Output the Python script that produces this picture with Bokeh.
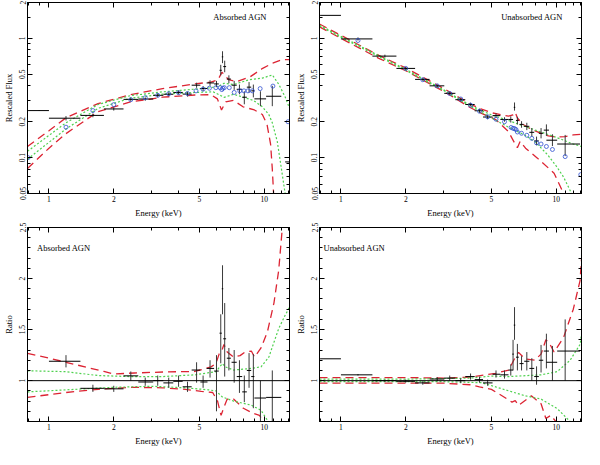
from bokeh.plotting import figure
from bokeh.models import (LogAxis, LinearAxis, FixedTicker, CustomJSTickFormatter,
                          Range1d, Label, Span)
from bokeh.layouts import column, row
from bokeh.embed import file_html
from bokeh.resources import INLINE

# ---------------- data: Absorbed AGN, rescaled flux ----------------
ab_f_lo = [0.8, 1.0, 1.4, 1.8, 2.22, 2.6, 3.05, 3.4, 3.78, 4.18, 4.6, 5.05, 5.4, 5.85, 6.2, 6.35, 6.45, 6.7, 7.05, 7.45, 7.9, 8.3, 8.7, 9.0, 10.2, 12.5]
ab_f_hi = [1.0, 1.4, 1.8, 2.22, 2.6, 3.05, 3.4, 3.78, 4.18, 4.6, 5.05, 5.45, 5.85, 6.15, 6.35, 6.45, 6.65, 7.0, 7.45, 7.9, 8.3, 8.7, 9.0, 10.2, 12.0, 14.0]
ab_f_e = [0.9, 1.2, 1.6, 2.0, 2.4, 2.8, 3.2, 3.6, 4.0, 4.4, 4.85, 5.2, 5.6, 6.0, 6.28, 6.4, 6.55, 6.85, 7.25, 7.67, 8.08, 8.5, 8.9, 9.6, 10.9, 13.0]
ab_f_y = [0.248, 0.214, 0.226, 0.256, 0.308, 0.31, 0.333, 0.34, 0.352, 0.341, 0.405, 0.38, 0.423, 0.415, 0.54, 0.70, 0.58, 0.456, 0.405, 0.374, 0.321, 0.39, 0.363, 0.311, 0.327, 0.092]
ab_f_ylo = [0.246, 0.205, 0.218, 0.248, 0.298, 0.300, 0.320, 0.327, 0.338, 0.325, 0.385, 0.362, 0.40, 0.39, 0.49, 0.62, 0.52, 0.42, 0.37, 0.34, 0.28, 0.35, 0.32, 0.27, 0.27, 0.092]
ab_f_yhi = [0.250, 0.223, 0.234, 0.264, 0.318, 0.32, 0.346, 0.353, 0.366, 0.357, 0.425, 0.398, 0.445, 0.44, 0.60, 0.78, 0.65, 0.49, 0.44, 0.41, 0.36, 0.43, 0.41, 0.36, 0.40, 0.092]
ab_f_mod_e = [0.8, 1.2, 1.6, 2.0, 2.4, 2.8, 3.2, 3.6, 4.0, 4.4, 4.82, 5.2, 5.56, 5.96, 6.24, 6.35, 6.42, 6.52, 6.88, 7.25, 7.7, 8.05, 8.4, 8.8, 9.57, 10.97, 12.9]
ab_f_mod_y = [0.1, 0.18, 0.248, 0.278, 0.306, 0.318, 0.333, 0.343, 0.35, 0.345, 0.363, 0.375, 0.382, 0.386, 0.386, 0.372, 0.382, 0.386, 0.386, 0.352, 0.363, 0.363, 0.363, 0.363, 0.379, 0.398, 0.2]
ab_f_red_up_e = [0.795, 1.0, 1.2, 1.69, 2.39, 3.37, 4.76, 5.65, 6.1, 6.36, 6.5, 6.83, 7.43, 8.6, 9.83, 11.1, 12.1, 13.1]
ab_f_red_up_y = [0.124, 0.168, 0.216, 0.284, 0.337, 0.379, 0.415, 0.43, 0.45, 0.52, 0.50, 0.45, 0.434, 0.476, 0.561, 0.627, 0.663, 0.663]
ab_f_red_lo_e = [0.795, 1.0, 1.2, 1.69, 2.39, 3.37, 4.76, 5.65, 6.06, 6.33, 6.62, 7.2, 7.97, 9.0, 9.8, 10.3, 10.7, 10.9, 11.05]
ab_f_red_lo_y = [0.081, 0.12, 0.159, 0.243, 0.293, 0.321, 0.335, 0.337, 0.311, 0.251, 0.293, 0.302, 0.267, 0.251, 0.23, 0.19, 0.13, 0.08, 0.05]
ab_f_grn_up_e = [0.795, 1.2, 1.69, 2.39, 3.37, 4.76, 5.65, 6.2, 6.5, 7.2, 8.5, 9.8, 10.9, 11.7, 12.5, 13.1]
ab_f_grn_up_y = [0.113, 0.196, 0.279, 0.331, 0.356, 0.375, 0.386, 0.40, 0.42, 0.41, 0.45, 0.464, 0.494, 0.41, 0.323, 0.26]
ab_f_grn_lo_e = [0.795, 1.2, 1.69, 2.39, 3.37, 4.76, 5.8, 6.3, 6.5, 7.2, 8.9, 9.8, 10.5, 10.9, 11.5, 12.1, 12.5]
ab_f_grn_lo_y = [0.097, 0.174, 0.259, 0.315, 0.341, 0.352, 0.356, 0.33, 0.32, 0.34, 0.302, 0.267, 0.23, 0.196, 0.136, 0.074, 0.05]

# ---------------- data: Unabsorbed AGN, rescaled flux ----------------
un_f_lo = [0.8, 1.0, 1.4, 1.81, 2.21, 2.58, 3.02, 3.4, 3.78, 4.18, 4.57, 5.06, 5.5, 6.0, 6.35, 6.5, 6.75, 7.1, 7.5, 7.9, 8.3, 8.75, 9.0, 10.1]
un_f_hi = [1.0, 1.4, 1.81, 2.21, 2.58, 3.02, 3.4, 3.78, 4.18, 4.57, 5.06, 5.5, 6.0, 6.3, 6.45, 6.7, 7.05, 7.5, 7.9, 8.3, 8.7, 9.25, 10.1, 12.9]
un_f_e = [0.9, 1.2, 1.6, 2.0, 2.4, 2.8, 3.2, 3.6, 4.0, 4.4, 4.8, 5.25, 5.75, 6.15, 6.4, 6.6, 6.9, 7.3, 7.7, 8.1, 8.5, 9.0, 9.6, 11.0]
un_f_y = [1.56, 0.99, 0.71, 0.56, 0.453, 0.40, 0.346, 0.306, 0.279, 0.247, 0.219, 0.225, 0.209, 0.209, 0.264, 0.205, 0.19, 0.183, 0.163, 0.138, 0.16, 0.17, 0.14, 0.13]
un_f_ylo = [1.56, 0.96, 0.69, 0.545, 0.44, 0.39, 0.336, 0.296, 0.269, 0.237, 0.21, 0.215, 0.20, 0.197, 0.248, 0.19, 0.178, 0.17, 0.15, 0.127, 0.145, 0.152, 0.125, 0.103]
un_f_yhi = [1.56, 1.02, 0.73, 0.575, 0.466, 0.41, 0.356, 0.316, 0.289, 0.257, 0.228, 0.235, 0.218, 0.222, 0.29, 0.22, 0.202, 0.196, 0.177, 0.15, 0.177, 0.19, 0.157, 0.155]
un_f_mod_e = [1.2, 2.0, 2.4, 2.8, 3.2, 3.6, 4.0, 4.4, 4.8, 5.25, 5.75, 6.17, 6.3, 6.4, 6.5, 6.6, 6.9, 7.3, 7.7, 8.1, 8.5, 9.0, 9.6, 11.0, 13.0]
un_f_mod_y = [0.96, 0.56, 0.45, 0.40, 0.345, 0.31, 0.275, 0.245, 0.22, 0.21, 0.20, 0.179, 0.176, 0.175, 0.172, 0.164, 0.16, 0.154, 0.145, 0.133, 0.13, 0.124, 0.117, 0.102, 0.072]
un_f_red_up_e = [0.795, 1.0, 1.5, 2.0, 3.0, 4.0, 4.5, 5.0, 5.6, 6.0, 6.3, 6.45, 6.6, 7.0, 7.7, 8.5, 9.2, 10.0, 11.0, 12.0, 13.1]
un_f_red_up_y = [1.32, 1.06, 0.72, 0.565, 0.38, 0.28, 0.255, 0.238, 0.228, 0.223, 0.228, 0.24, 0.215, 0.19, 0.172, 0.16, 0.152, 0.149, 0.15, 0.155, 0.157]
un_f_red_lo_e = [0.795, 1.0, 1.5, 2.0, 3.0, 4.0, 4.5, 5.24, 6.0, 6.4, 6.6, 6.8, 7.2, 8.18, 9.77, 10.6, 10.8]
un_f_red_lo_y = [1.25, 1.0, 0.68, 0.535, 0.36, 0.262, 0.235, 0.208, 0.165, 0.133, 0.121, 0.137, 0.12, 0.099, 0.074, 0.054, 0.05]
un_f_grn_up_e = [0.795, 1.0, 2.0, 3.0, 4.0, 5.0, 6.0, 6.7, 8.0, 9.4, 10.5, 12.0, 13.1]
un_f_grn_up_y = [1.29, 1.04, 0.55, 0.37, 0.274, 0.228, 0.205, 0.19, 0.17, 0.154, 0.143, 0.13, 0.124]
un_f_grn_lo_e = [0.795, 1.0, 2.0, 3.0, 4.0, 5.0, 6.0, 7.16, 8.0, 9.1, 10.0, 10.8, 11.6, 11.75]
un_f_grn_lo_y = [1.27, 1.02, 0.54, 0.365, 0.27, 0.215, 0.18, 0.154, 0.135, 0.106, 0.085, 0.069, 0.053, 0.05]

# ---------------- data: Absorbed AGN, ratio ----------------
ab_r_lo = [1.0, 1.4, 1.8, 2.22, 2.6, 3.05, 3.4, 3.78, 4.18, 4.6, 5.05, 5.4, 5.85, 6.2, 6.35, 6.45, 6.7, 7.05, 7.45, 7.9, 8.3, 8.7, 9.0, 10.2]
ab_r_hi = [1.4, 1.8, 2.22, 2.6, 3.05, 3.4, 3.78, 4.18, 4.6, 5.05, 5.45, 5.85, 6.15, 6.35, 6.45, 6.65, 7.0, 7.45, 7.9, 8.3, 8.7, 9.0, 10.2, 12.0]
ab_r_e = [1.2, 1.6, 2.0, 2.4, 2.8, 3.2, 3.6, 4.0, 4.4, 4.85, 5.2, 5.6, 6.0, 6.28, 6.4, 6.55, 6.85, 7.25, 7.67, 8.08, 8.5, 8.9, 9.6, 10.9]
ab_r_y = [1.19, 0.925, 0.92, 1.047, 0.987, 1.0, 0.978, 0.994, 0.94, 1.104, 0.987, 1.12, 1.094, 1.465, 1.9, 1.41, 1.22, 1.18, 1.04, 0.89, 1.10, 1.04, 0.83, 0.836]
ab_r_ylo = [1.13, 0.89, 0.89, 1.0, 0.95, 0.95, 0.93, 0.94, 0.89, 0.98, 0.93, 1.03, 0.70, 1.17, 1.65, 1.04, 1.10, 0.98, 0.88, 0.79, 0.93, 0.73, 0.6, 0.6]
ab_r_yhi = [1.25, 0.96, 0.95, 1.09, 1.03, 1.05, 1.03, 1.05, 0.99, 1.18, 1.05, 1.2, 1.25, 1.65, 2.13, 1.76, 1.32, 1.3, 1.2, 1.05, 1.27, 1.26, 1.0, 1.1]
ab_r_red_up_e = [0.795, 1.0, 1.2, 1.5, 1.8, 2.0, 2.5, 3.4, 4.76, 5.66, 5.96, 6.17, 6.39, 6.5, 6.73, 7.2, 7.72, 8.13, 8.71, 9.02, 9.66, 10.35, 11.09, 11.67, 12.09, 12.15]
ab_r_red_up_y = [1.267, 1.22, 1.18, 1.13, 1.09, 1.065, 1.075, 1.085, 1.09, 1.135, 1.167, 1.26, 1.31, 1.355, 1.28, 1.23, 1.245, 1.28, 1.29, 1.23, 1.32, 1.48, 1.76, 2.08, 2.46, 2.52]
ab_r_red_lo_e = [0.795, 1.2, 1.69, 2.39, 3.37, 4.3, 5.1, 5.76, 6.07, 6.3, 6.5, 6.73, 7.2, 8.0, 8.87, 9.5, 10.0]
ab_r_red_lo_y = [0.836, 0.884, 0.915, 0.935, 0.93, 0.915, 0.895, 0.884, 0.80, 0.66, 0.74, 0.82, 0.82, 0.73, 0.68, 0.66, 0.59]
ab_r_grn_up_e = [0.795, 1.2, 1.69, 2.39, 3.37, 4.76, 5.96, 6.39, 6.6, 7.2, 8.7, 9.66, 10.5, 11.67, 12.5, 13.1]
ab_r_grn_up_y = [1.097, 1.088, 1.05, 1.04, 1.04, 1.057, 1.088, 1.167, 1.135, 1.104, 1.12, 1.135, 1.23, 1.51, 1.64, 1.72]
ab_r_grn_lo_e = [0.795, 1.2, 2.0, 3.0, 4.3, 5.5, 5.96, 6.39, 7.2, 8.7, 9.66, 10.5]
ab_r_grn_lo_y = [0.89, 0.91, 0.935, 0.945, 0.93, 0.91, 0.9, 0.84, 0.80, 0.76, 0.71, 0.59]

# ---------------- data: Unabsorbed AGN, ratio ----------------
un_r_lo = [0.8, 1.0, 1.4, 1.81, 2.21, 2.58, 3.02, 3.4, 3.78, 4.18, 4.57, 5.06, 5.5, 6.0, 6.25, 6.35, 6.5, 6.75, 7.1, 7.5, 7.9, 8.3, 8.75, 9.0, 10.1]
un_r_hi = [1.0, 1.4, 1.81, 2.21, 2.58, 3.02, 3.4, 3.78, 4.18, 4.57, 5.06, 5.5, 6.0, 6.3, 6.35, 6.45, 6.7, 7.05, 7.5, 7.9, 8.3, 8.7, 9.25, 10.1, 12.9]
un_r_e = [0.9, 1.2, 1.6, 2.0, 2.4, 2.8, 3.2, 3.6, 4.0, 4.4, 4.8, 5.25, 5.75, 6.15, 6.3, 6.4, 6.6, 6.9, 7.3, 7.7, 8.1, 8.5, 9.0, 9.6, 11.0]
un_r_y = [1.214, 1.057, 1.0, 0.994, 0.978, 1.016, 1.025, 1.0, 1.04, 1.01, 0.978, 1.063, 1.057, 1.104, 1.26, 1.544, 1.23, 1.167, 1.19, 1.12, 1.04, 1.2, 1.29, 1.18, 1.29]
un_r_ylo = [1.214, 1.05, 0.99, 0.98, 0.96, 0.995, 1.0, 0.975, 1.01, 0.98, 0.95, 1.03, 1.02, 1.05, 1.1, 1.40, 1.1, 1.1, 1.1, 1.0, 0.96, 1.08, 1.12, 1.0, 1.0]
un_r_yhi = [1.214, 1.065, 1.01, 1.01, 0.995, 1.035, 1.05, 1.025, 1.07, 1.04, 1.01, 1.1, 1.1, 1.16, 1.4, 1.72, 1.36, 1.24, 1.28, 1.22, 1.14, 1.35, 1.46, 1.34, 1.6]
un_r_red_up_e = [0.795, 1.0, 2.0, 3.0, 4.0, 5.24, 6.02, 6.45, 6.68, 7.16, 7.94, 8.5, 8.95, 9.27, 9.77, 10.8, 12.0, 12.9, 13.1]
un_r_red_up_y = [1.03, 1.03, 1.03, 1.025, 1.035, 1.072, 1.104, 1.23, 1.277, 1.214, 1.2, 1.26, 1.4, 1.37, 1.28, 1.42, 1.70, 1.98, 2.19]
un_r_red_lo_e = [0.795, 2.0, 3.0, 4.0, 4.4, 5.0, 5.62, 6.23, 6.45, 6.68, 7.66, 8.5, 8.95, 9.43, 10.1, 10.3]
un_r_red_lo_y = [0.975, 0.975, 0.975, 0.96, 0.94, 0.915, 0.85, 0.79, 0.805, 0.758, 0.852, 0.774, 0.63, 0.66, 0.585, 0.55]
un_r_grn_up_e = [0.795, 2.0, 4.0, 5.0, 6.02, 8.5, 10.1, 11.6, 12.9, 13.3]
un_r_grn_up_y = [1.015, 1.015, 1.025, 1.045, 1.04, 1.057, 1.088, 1.2, 1.355, 1.54]
un_r_grn_lo_e = [0.795, 3.0, 4.5, 6.02, 7.16, 8.5, 10.1, 11.6, 12.0]
un_r_grn_lo_y = [0.99, 0.99, 0.98, 0.9, 0.852, 0.82, 0.726, 0.6, 0.55]

x_ticks = [1, 2, 5, 10]
x_minor = [0.8, 0.9, 3, 4, 6, 7, 8, 9, 11, 12, 13]
flux_ticks = [0.05, 0.1, 0.2, 0.5, 1, 2]
flux_minor = [0.06, 0.07, 0.08, 0.09, 0.3, 0.4, 0.6, 0.7, 0.8, 0.9, 1.5]
ratio_ticks = [1, 1.5, 2, 2.5]
ratio_minor = [0.6, 0.7, 0.8, 0.9, 1.1, 1.2, 1.3, 1.4, 1.6, 1.7, 1.8, 1.9, 2.1, 2.2, 2.3, 2.4]

FONT = "Liberation Serif"
RED = "#dc2433"
GREEN = "#4fd14f"
BLUE = "#3050d0"
FMT = "return String(tick);"


def style(ax, show=True, vertical=False):
    ax.major_tick_in = 5
    ax.major_tick_out = 0
    ax.minor_tick_in = 3
    ax.minor_tick_out = 0
    ax.axis_line_color = "black"
    ax.major_tick_line_color = "black"
    ax.minor_tick_line_color = "black"
    ax.axis_line_width = 1
    ax.major_label_text_font = FONT
    ax.axis_label_text_font = FONT
    ax.axis_label_text_font_style = "normal"
    ax.axis_label_text_font_size = "8.5px"
    ax.axis_label_text_color = "black"
    ax.major_label_text_color = "black"
    if show:
        ax.major_label_text_font_size = "7.5px"
        ax.major_label_standoff = 2
        ax.axis_label_standoff = 3
        if vertical:
            ax.major_label_orientation = "vertical"
    else:
        ax.major_label_text_font_size = "0px"
        ax.major_label_standoff = 0


def panel(kind, height, top, left, title, title_x, title_y, d):
    log_y = kind == "flux"
    yr = Range1d(0.05, 2) if log_y else Range1d(0.6, 2.5)
    p = figure(width=292, height=height, x_axis_type="log",
               y_axis_type="log" if log_y else "linear",
               x_range=Range1d(0.795, 13.1), y_range=yr,
               output_backend="svg", toolbar_location=None,
               min_border_left=left, min_border_right=3,
               min_border_top=top, min_border_bottom=25)
    p.grid.visible = False
    p.outline_line_color = "black"
    p.background_fill_color = "white"
    p.border_fill_color = "white"
    yt = flux_ticks if log_y else ratio_ticks
    ym = flux_minor if log_y else ratio_minor

    xax = p.xaxis[0]
    xax.ticker = FixedTicker(ticks=x_ticks, minor_ticks=x_minor)
    xax.formatter = CustomJSTickFormatter(code=FMT)
    xax.axis_label = "Energy (keV)"
    style(xax)
    yax = p.yaxis[0]
    yax.ticker = FixedTicker(ticks=yt, minor_ticks=ym)
    yax.formatter = CustomJSTickFormatter(code=FMT)
    yax.axis_label = "Rescaled Flux" if log_y else "Ratio"
    style(yax, vertical=True)

    top_ax = LogAxis(ticker=FixedTicker(ticks=x_ticks, minor_ticks=x_minor))
    style(top_ax, show=False)
    p.add_layout(top_ax, "above")
    YA = LogAxis if log_y else LinearAxis
    right_ax = YA(ticker=FixedTicker(ticks=yt, minor_ticks=ym))
    style(right_ax, show=False)
    p.add_layout(right_ax, "right")

    if not log_y:
        p.add_layout(Span(location=1, dimension="width", line_color="black", line_width=1))

    # model envelopes
    p.line(d["red_up_e"], d["red_up_y"], line_color=RED, line_dash="8 5", line_width=1.3)
    p.line(d["red_lo_e"], d["red_lo_y"], line_color=RED, line_dash="8 5", line_width=1.3)
    p.line(d["grn_up_e"], d["grn_up_y"], line_color=GREEN, line_dash="2 2", line_width=1.2)
    p.line(d["grn_lo_e"], d["grn_lo_y"], line_color=GREEN, line_dash="2 2", line_width=1.2)

    # data crosses
    p.segment(x0=d["e"], y0=d["ylo"], x1=d["e"], y1=d["yhi"], line_color="#3a3a3a", line_width=1)
    p.segment(x0=d["lo"], y0=d["y"], x1=d["hi"], y1=d["y"], line_color="black", line_width=1)

    if "mod_e" in d:
        p.scatter(d["mod_e"], d["mod_y"], marker="circle", size=4, fill_color=None,
                  line_color=BLUE, line_width=0.8)

    p.add_layout(Label(x=title_x, y=title_y, text=title, text_font=FONT,
                       text_font_size="8.5px", text_baseline="middle", text_color="black"))
    return p


p1 = panel("flux", 220, 2, 21, "Absorbed AGN", 5.8, 1.5, dict(
    lo=ab_f_lo, hi=ab_f_hi, e=ab_f_e, y=ab_f_y, ylo=ab_f_ylo, yhi=ab_f_yhi,
    mod_e=ab_f_mod_e, mod_y=ab_f_mod_y,
    red_up_e=ab_f_red_up_e, red_up_y=ab_f_red_up_y, red_lo_e=ab_f_red_lo_e, red_lo_y=ab_f_red_lo_y,
    grn_up_e=ab_f_grn_up_e, grn_up_y=ab_f_grn_up_y, grn_lo_e=ab_f_grn_lo_e, grn_lo_y=ab_f_grn_lo_y))
p2 = panel("flux", 220, 2, 27, "Unabsorbed AGN", 5.55, 1.5, dict(
    lo=un_f_lo, hi=un_f_hi, e=un_f_e, y=un_f_y, ylo=un_f_ylo, yhi=un_f_yhi,
    mod_e=un_f_mod_e, mod_y=un_f_mod_y,
    red_up_e=un_f_red_up_e, red_up_y=un_f_red_up_y, red_lo_e=un_f_red_lo_e, red_lo_y=un_f_red_lo_y,
    grn_up_e=un_f_grn_up_e, grn_up_y=un_f_grn_up_y, grn_lo_e=un_f_grn_lo_e, grn_lo_y=un_f_grn_lo_y))
p3 = panel("ratio", 228, 7, 21, "Absorbed AGN", 0.88, 2.3, dict(
    lo=ab_r_lo, hi=ab_r_hi, e=ab_r_e, y=ab_r_y, ylo=ab_r_ylo, yhi=ab_r_yhi,
    red_up_e=ab_r_red_up_e, red_up_y=ab_r_red_up_y, red_lo_e=ab_r_red_lo_e, red_lo_y=ab_r_red_lo_y,
    grn_up_e=ab_r_grn_up_e, grn_up_y=ab_r_grn_up_y, grn_lo_e=ab_r_grn_lo_e, grn_lo_y=ab_r_grn_lo_y))
p4 = panel("ratio", 228, 7, 27, "Unabsorbed AGN", 0.83, 2.3, dict(
    lo=un_r_lo, hi=un_r_hi, e=un_r_e, y=un_r_y, ylo=un_r_ylo, yhi=un_r_yhi,
    red_up_e=un_r_red_up_e, red_up_y=un_r_red_up_y, red_lo_e=un_r_red_lo_e, red_lo_y=un_r_red_lo_y,
    grn_up_e=un_r_grn_up_e, grn_up_y=un_r_grn_up_y, grn_lo_e=un_r_grn_lo_e, grn_lo_y=un_r_grn_lo_y))

layout = column(row(p1, p2), row(p3, p4))
open("out.html", "w").write(file_html(layout, INLINE))
